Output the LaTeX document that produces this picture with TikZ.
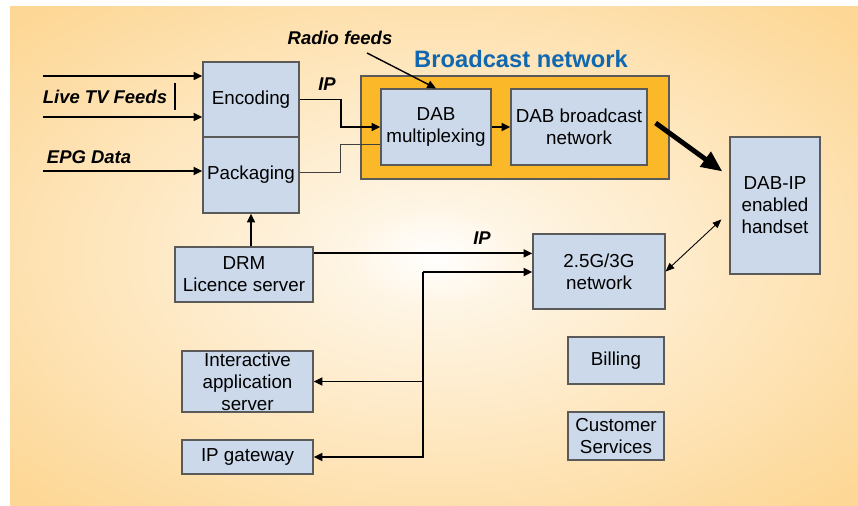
\documentclass[tikz,border=0pt]{standalone}
\usepackage{fontspec}
\setmainfont{Liberation Sans}
\usetikzlibrary{arrows.meta,calc}
\definecolor{bgpeach}{RGB}{253,215,149}
\definecolor{boxblue}{RGB}{204,217,234}
\definecolor{bnetorange}{RGB}{251,184,41}
\definecolor{titleblue}{RGB}{16,104,176}
\definecolor{edgegray}{RGB}{90,90,90}
\pgfdeclareradialshading{glow}{\pgfpoint{0bp}{0bp}}{color(0bp)=(white); color(5bp)=(white!75!bgpeach); color(34bp)=(bgpeach); color(50bp)=(bgpeach)}
\begin{document}
\begin{tikzpicture}[x=0.02cm,y=-0.02cm,
  box/.style={draw=edgegray,line width=0.7pt,fill=boxblue,inner sep=0pt,align=center,font=\fontsize{10.7}{12.5}\selectfont},
  sz/.style 2 args={minimum width=#1*0.02cm,minimum height=#2*0.02cm},
  lbl/.style={font=\fontsize{10.5}{12}\selectfont\bfseries\itshape},
  arr/.style={line width=1.1pt,-{Triangle[length=5pt,width=4.5pt]}},
  thinline/.style={line width=0.5pt,black!75}]
\useasboundingbox (0,0) rectangle (858,506);
\shade[shading=glow] (10,7) rectangle (858,506);
\node[box,sz={96}{75}] (enc) at (251,99.5) {Encoding};
\node[box,sz={96}{76}] (pack) at (251,175) {Packaging};
\node[draw=edgegray,fill=bnetorange,line width=0.6pt,sz={308}{103}] (bnet) at (515,127.5) {};
\node[box,sz={110}{76}] (mux) at (436,127) {DAB\\multiplexing};
\node[box,sz={136}{76}] (dabnet) at (579,127) {DAB broadcast\\network};
\node[box,sz={90}{137}] (hand) at (775,205.5) {DAB-IP\\enabled\\handset};
\node[box,sz={132}{75}] (cell) at (599,271.5) {2.5G/3G\\network};
\node[box,sz={138}{55}] (drm) at (244,274.5) {DRM\\Licence server};
\node[box,sz={131}{61}] (iapp) at (247.5,381.5) {Interactive\\application\\server};
\node[box,sz={131}{34}] (ipgw) at (247.5,457) {IP gateway};
\node[box,sz={96}{47}] (bill) at (616,360.5) {Billing};
\node[box,sz={96}{48}] (cust) at (616,436) {Customer\\Services};
\node[lbl] (tv) at (105,97) {Live TV Feeds};
\node[lbl] (epg) at (89,157) {EPG Data};
\node[lbl] (ip1) at (327,84) {IP};
\node[lbl] (ip2) at (482,238) {IP};
\node[lbl] (rf) at (340,38) {Radio feeds};
\node[font=\fontsize{13.5}{16}\selectfont\bfseries,text=titleblue] (title) at (521,59) {Broadcast network};
\coordinate (tv1) at (43,76);
\coordinate (tv2) at (43,117);
\coordinate (epgin) at (43,171);
\draw[arr] (tv1) -- (tv1 -| enc.west);
\draw[arr] (tv2) -- (tv2 -| enc.west);
\draw[arr] (epgin) -- (epgin -| pack.west);
\draw[line width=0.8pt] (175,83) -- (175,110);
\draw[arr] (enc.east) -- ++(41,0) |- (mux.west);
\draw[thinline] ($(pack.east)+(0,-3)$) -- ++(41,0) |- ($(mux.west)+(0,17)$);
\draw[arr] (mux) -- (dabnet);
\draw[line width=0.8pt,-{Triangle[length=5pt,width=4.5pt]}] ($(rf.south)+(27,2)$) -- (mux.north);
\draw[line width=2.8pt,-{Triangle[length=12pt,width=10pt]}] ($(dabnet.east)+(8,-4)$) -- ($(hand.west)+(-7,-34)$);
\draw[thinline,black,{Triangle[length=5pt,width=4pt]}-{Triangle[length=5pt,width=4pt]}] (cell.east) -- ($(hand.west)+(-8,14)$);
\draw[arr] (pack.south |- drm.north) -- (pack.south);
\coordinate (drmout) at ($(drm.north east)+(0,7)$);
\draw[arr] (drmout) -- (drmout -| cell.west);
\coordinate (bus) at (423,272);
\draw[arr] (bus) -- (bus -| cell.west);
\draw[arr] (bus) |- (ipgw.east);
\draw[arr] (bus |- iapp.east) -- (iapp.east);
\end{tikzpicture}
\end{document}
